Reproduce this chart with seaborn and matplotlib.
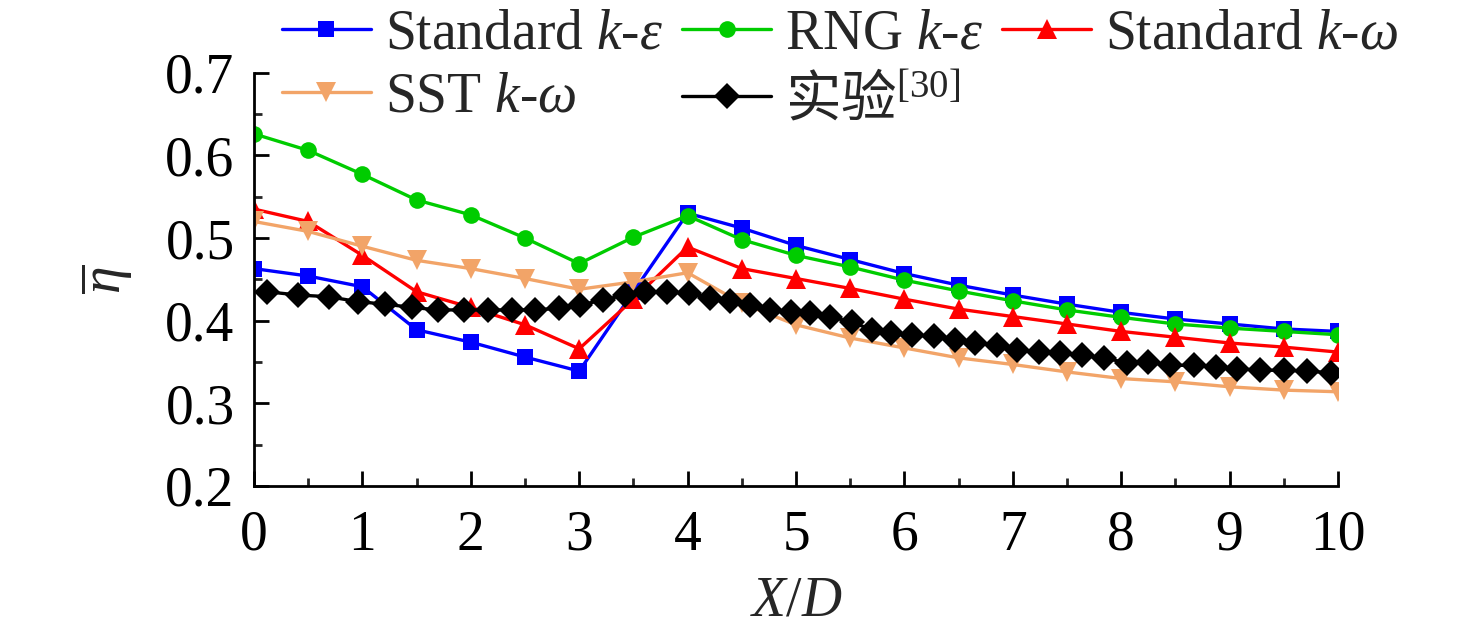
import matplotlib
matplotlib.use('Agg')
import matplotlib.pyplot as plt
import numpy as np
import seaborn as sns
from matplotlib.ticker import MultipleLocator

# model results, X/D = 0 .. 10 step 0.5
xd = [0, 0.5, 1, 1.5, 2, 2.5, 3, 3.5, 4, 4.5, 5, 5.5, 6, 6.5, 7,
      7.5, 8, 8.5, 9, 9.5, 10]
std_ke = [0.463, 0.454, 0.441, 0.389, 0.374, 0.356, 0.339, 0.435, 0.530,
          0.512, 0.491, 0.474, 0.457, 0.443, 0.431, 0.420, 0.410, 0.402,
          0.396, 0.390, 0.387]
rng_ke = [0.626, 0.606, 0.577, 0.546, 0.528, 0.500, 0.469, 0.501, 0.527,
          0.498, 0.479, 0.465, 0.449, 0.436, 0.424, 0.413, 0.404, 0.396,
          0.391, 0.387, 0.383]
std_kw = [0.535, 0.520, 0.479, 0.435, 0.416, 0.395, 0.366, 0.426, 0.489,
          0.463, 0.451, 0.439, 0.426, 0.414, 0.405, 0.396, 0.387, 0.380,
          0.373, 0.368, 0.362]
sst_kw = [0.520, 0.508, 0.490, 0.473, 0.463, 0.451, 0.438, 0.447, 0.458,
          0.421, 0.395, 0.379, 0.367, 0.355, 0.347, 0.338, 0.330, 0.326,
          0.320, 0.316, 0.314]

# experiment [30]
xd_exp = [0.12, 0.41, 0.69, 0.96, 1.21, 1.46, 1.70, 1.94, 2.16, 2.38, 2.59,
          2.81, 3.01, 3.22, 3.42, 3.61, 3.81, 4.01, 4.21, 4.39, 4.58, 4.76,
          4.95, 5.13, 5.31, 5.52, 5.70, 5.88, 6.07, 6.27, 6.47, 6.65, 6.85,
          7.04, 7.24, 7.44, 7.64, 7.84, 8.05, 8.25, 8.45, 8.67, 8.87, 9.07,
          9.28, 9.50, 9.71, 9.94]
exp = [0.435, 0.431, 0.429, 0.423, 0.420, 0.416, 0.413, 0.413, 0.413, 0.413,
       0.413, 0.415, 0.419, 0.425, 0.431, 0.435, 0.435, 0.433, 0.428, 0.424,
       0.419, 0.413, 0.411, 0.409, 0.405, 0.398, 0.389, 0.385, 0.383, 0.381,
       0.377, 0.373, 0.371, 0.365, 0.362, 0.361, 0.358, 0.355, 0.349, 0.350,
       0.346, 0.346, 0.344, 0.342, 0.340, 0.340, 0.339, 0.337]

labels = [r"Standard $k$-$\varepsilon$", r"RNG $k$-$\varepsilon$",
          r"Standard $k$-$\omega$", r"SST $k$-$\omega$",
          r"$\mathsf{实验}^{[30]}$"]

sns.set_style("ticks")
plt.rcParams['font.family'] = ['Liberation Serif', 'Noto Sans CJK SC']
plt.rcParams['mathtext.fontset'] = 'custom'
plt.rcParams['mathtext.rm'] = 'Liberation Serif'
plt.rcParams['mathtext.it'] = 'Liberation Serif:italic'
plt.rcParams['mathtext.bf'] = 'Liberation Serif:bold'
plt.rcParams['mathtext.sf'] = 'Noto Sans CJK SC'

fs = 40
fig = plt.figure(figsize=(14.76, 6.35), dpi=100)
ax = fig.add_axes([254 / 1476, 1 - 486 / 635, (1338 - 254) / 1476, (486 - 72.7) / 635])

series = [
    (xd, std_ke, "#0000ff", "s", 11),
    (xd, rng_ke, "#00cc00", "o", 12),
    (xd, std_kw, "#ff0000", "^", 14),
    (xd, sst_kw, "#f2a468", "v", 14),
    (xd_exp, exp, "#000000", "D", 13),
]
for (x, y, c, m, ms), lab in zip(series, labels):
    sns.lineplot(x=x, y=y, ax=ax, color=c, marker=m, markersize=ms,
                 markeredgewidth=0, linewidth=2.4, label=lab)

ax.set_xlim(0, 10)
ax.set_ylim(0.2, 0.7)
ax.xaxis.set_major_locator(MultipleLocator(1))
ax.xaxis.set_minor_locator(MultipleLocator(0.5))
ax.yaxis.set_minor_locator(MultipleLocator(0.05))
ax.set_yticks(np.arange(0.2, 0.71, 0.1))
ax.set_yticklabels(["0.2", "0.3", "0.4", "0.5", "0.6", "0.7"])
ax.tick_params(which='major', direction='in', length=11, width=2, labelsize=fs)
ax.tick_params(which='minor', direction='in', length=6, width=2)
ax.tick_params(axis='x', pad=17)
ax.tick_params(axis='y', pad=14)
for s in ['top', 'right']:
    ax.spines[s].set_visible(False)
for s in ['left', 'bottom']:
    ax.spines[s].set_linewidth(2)
    ax.spines[s].set_color('black')
ax.tick_params(colors='black')

ax.set_xlabel("$X$/$D$", fontsize=fs, labelpad=10)
ax.set_ylabel(r"$\overline{\eta}$", fontsize=fs, labelpad=22)

ax.get_legend().remove()
h, l = ax.get_legend_handles_labels()
order = [0, 3, 1, 4, 2]
fig.legend([h[i] for i in order], [l[i] for i in order], ncol=3,
           loc='upper left', bbox_to_anchor=(254 / 1476, 1.03), frameon=False,
           fontsize=fs, borderpad=0, handlelength=1.6, handletextpad=0.25,
           columnspacing=0.35, labelspacing=0.2)

fig.savefig("out.png", dpi=100)
